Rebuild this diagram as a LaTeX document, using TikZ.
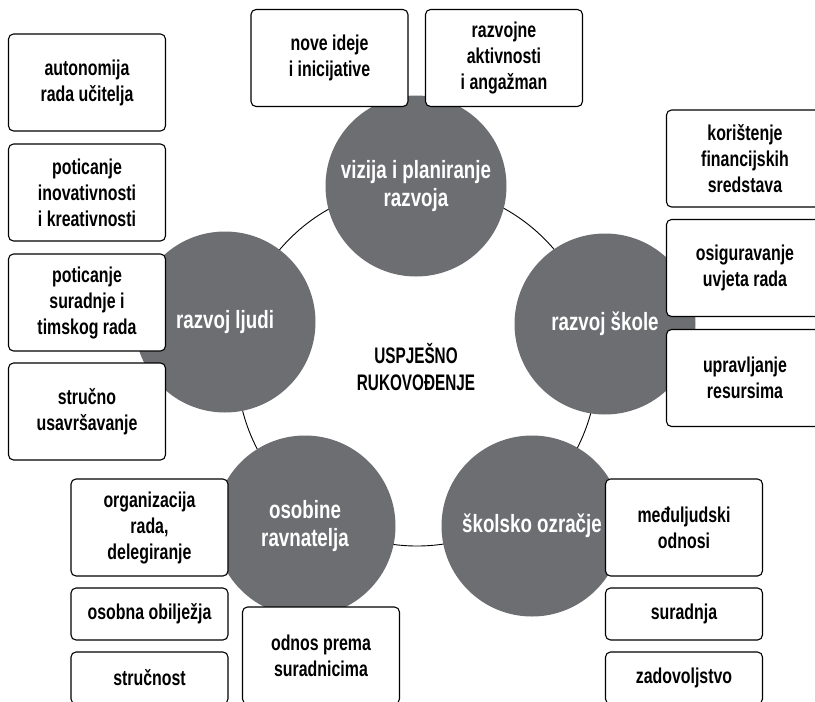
\documentclass[tikz,border=0pt]{standalone}
\usepackage{fontspec}
\newfontfamily\condfont[FakeStretch=0.74]{Liberation Sans}
\newfontfamily\circfont[FakeStretch=0.75]{Liberation Sans}
\newfontfamily\capsfont[FakeStretch=0.68]{Liberation Sans}
\definecolor{circgray}{RGB}{109,110,113}
\begin{document}
\begin{tikzpicture}[x=1pt,y=-1pt,
  box/.style={draw=black, line width=1.1pt, fill=white, rounded corners=5pt, align=center,
    inner sep=0pt, minimum width=157pt, text=black,
    font=\condfont\bfseries\fontsize{21.5}{26}\selectfont},
  boxtall/.style={box, minimum height=97pt},
  boxshort/.style={box, minimum height=52pt},
  topic/.style={circle, fill=circgray, minimum size=181pt, inner sep=0pt, align=center,
    text=white, font=\circfont\bfseries\fontsize{25}{28}\selectfont},
  ring/.style={circle, draw=black, line width=0.9pt, inner sep=0pt, minimum size=360pt},
  centre/.style={align=center, text=black, font=\capsfont\bfseries\fontsize{22.5}{27}\selectfont}]
\useasboundingbox (0,0) rectangle (815,702);
\clip (0,0) rectangle (815,702);
\fill[white] (0,0) rectangle (815,702);
% ring
\node[ring] (ring) at (417,366) {};
% topic circles
\node[topic] (vizija) at (416,186) {vizija i planiranje\\razvoja};
\node[topic] (skola) at (605,324) {razvoj škole};
\node[topic] (ozracje) at (532,526) {školsko ozračje};
\node[topic] (osobine) at (305,526) {osobine\\ravnatelja};
\node[topic] (ljudi) at (225,322) {razvoj ljudi};
\node[centre] (uspjesno) at (416,367) {USPJEŠNO\\RUKOVOĐENJE};
% left column
\node[boxtall] (autonomija) at (87,82.5) {autonomija\\rada učitelja};
\node[boxtall] (inovativnost) at (87,192.5) {poticanje\\inovativnosti\\i kreativnosti};
\node[boxtall] (suradnjatim) at (87,302.5) {poticanje\\suradnje i\\timskog rada};
\node[boxtall] (usavrsavanje) at (87,411.5) {stručno\\usavršavanje};
% top
\node[boxtall] (ideje) at (329.5,58) {nove ideje\\i inicijative};
\node[boxtall] (aktivnosti) at (504,58) {razvojne\\aktivnosti\\i angažman};
% right column
\node[boxtall] (financije) at (745,158.5) {korištenje\\financijskih\\sredstava};
\node[boxtall] (uvjeti) at (745,268) {osiguravanje\\uvjeta rada};
\node[boxtall] (resursi) at (745,378) {upravljanje\\resursima};
% bottom left
\node[boxtall] (organizacija) at (149.5,527.5) {organizacija\\rada,\\delegiranje};
\node[boxshort] (obiljezja) at (149.5,614) {osobna obilježja};
\node[boxshort] (strucnost) at (149.5,678) {stručnost};
\node[boxtall] (odnos) at (321,655.5) {odnos prema\\suradnicima};
% bottom right
\node[boxtall] (medjuljudski) at (684,527.5) {međuljudski\\odnosi};
\node[boxshort] (suradnja) at (684,614) {suradnja};
\node[boxshort] (zadovoljstvo) at (684,678) {zadovoljstvo};
\end{tikzpicture}
\end{document}
